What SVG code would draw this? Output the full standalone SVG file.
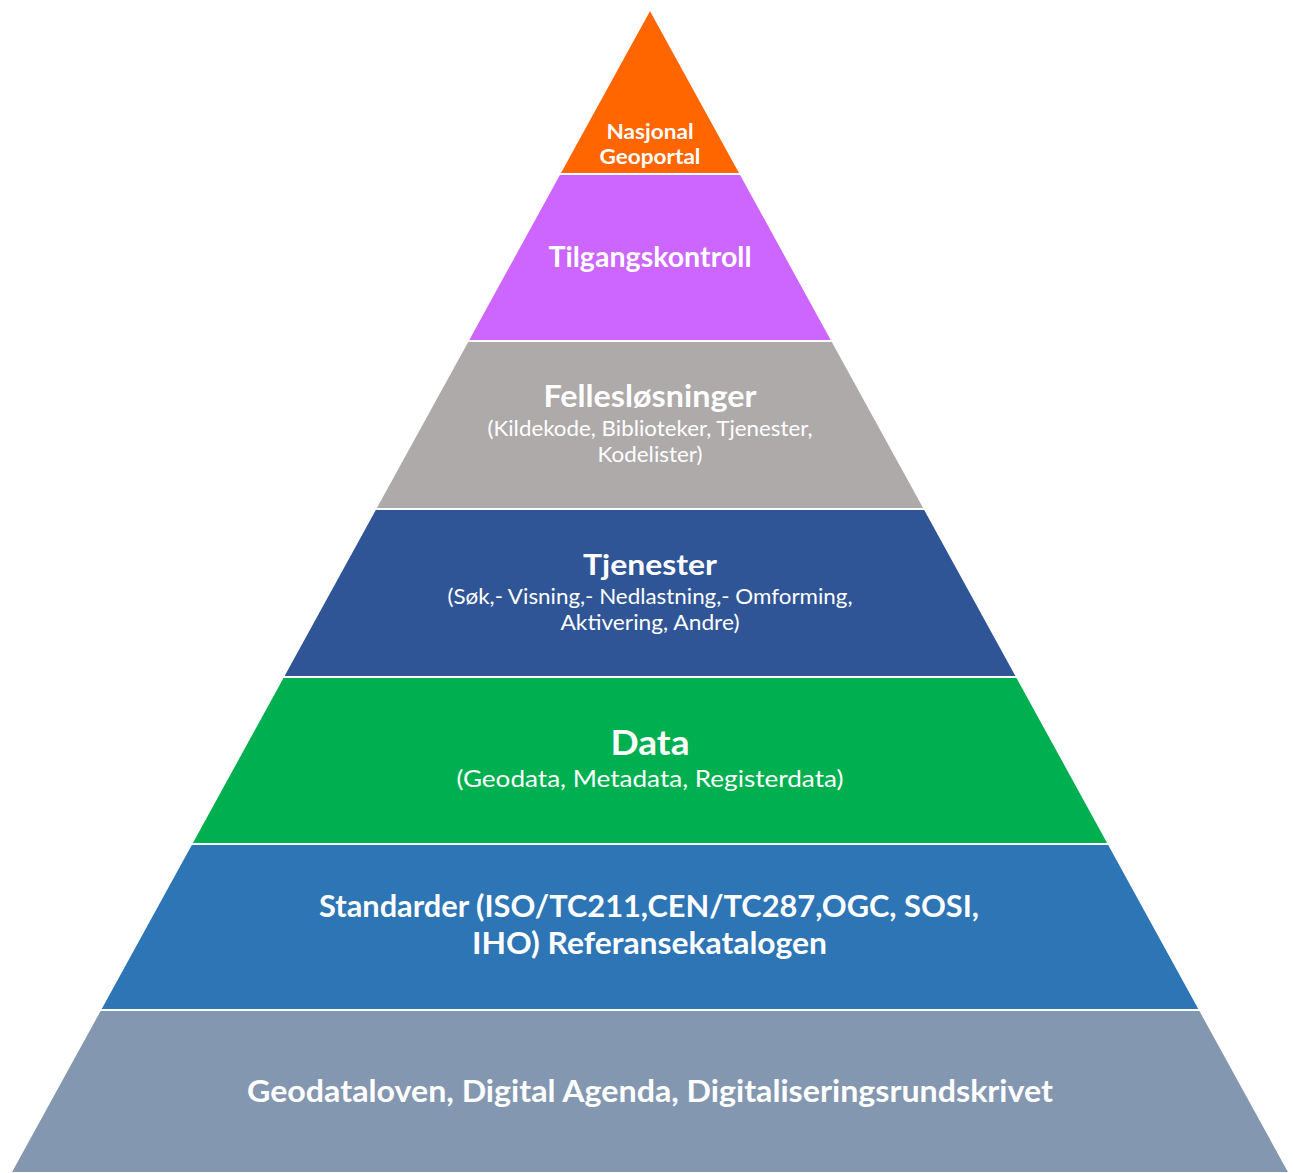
<svg xmlns="http://www.w3.org/2000/svg" width="1293" height="1173" viewBox="0 0 1293 1173">
<style>
.layer{stroke:#fff;stroke-width:2;stroke-linejoin:miter}
text{font-family:Lato,"Open Sans","Liberation Sans",sans-serif;fill:#fff;text-anchor:middle}
.b{font-weight:bold}
</style>
<rect width="1293" height="1173" fill="#fff"/>
<g id="layer-geoportal">
<polygon class="layer" fill="#FF6600" points="650,9 740.7,174 559.3,174"/>
<text class="b" x="650" y="139" font-size="20" textLength="87" lengthAdjust="spacingAndGlyphs">Nasjonal</text>
<text class="b" x="650" y="164" font-size="20" textLength="101" lengthAdjust="spacingAndGlyphs">Geoportal</text>
</g>
<g id="layer-tilgang">
<polygon class="layer" fill="#CC66FF" points="559.3,174 740.7,174 832.4,341 467.6,341"/>
<text class="b" x="650" y="267" font-size="28" textLength="203" lengthAdjust="spacingAndGlyphs">Tilgangskontroll</text>
</g>
<g id="layer-felles">
<polygon class="layer" fill="#AEAAAA" points="467.6,341 832.4,341 924.8,509 375.2,509"/>
<text class="b" x="650" y="407" font-size="30" textLength="213" lengthAdjust="spacingAndGlyphs">Fellesløsninger</text>
<text x="650" y="436" font-size="21" textLength="325" lengthAdjust="spacingAndGlyphs">(Kildekode, Biblioteker, Tjenester,</text>
<text x="650" y="462" font-size="21" textLength="105" lengthAdjust="spacingAndGlyphs">Kodelister)</text>
</g>
<g id="layer-tjenester">
<polygon class="layer" fill="#2F5597" points="375.2,509 924.8,509 1017.1,677 282.9,677"/>
<text class="b" x="650" y="575" font-size="29" textLength="134" lengthAdjust="spacingAndGlyphs">Tjenester</text>
<text x="650" y="604" font-size="21" textLength="405" lengthAdjust="spacingAndGlyphs">(Søk,- Visning,- Nedlastning,- Omforming,</text>
<text x="650" y="630" font-size="21" textLength="179" lengthAdjust="spacingAndGlyphs">Aktivering, Andre)</text>
</g>
<g id="layer-data">
<polygon class="layer" fill="#00B050" points="282.9,677 1017.1,677 1108.8,844 191.2,844"/>
<text class="b" x="650" y="755" font-size="35" textLength="79" lengthAdjust="spacingAndGlyphs">Data</text>
<text x="650" y="787" font-size="24" textLength="387" lengthAdjust="spacingAndGlyphs">(Geodata, Metadata, Registerdata)</text>
</g>
<g id="layer-standarder">
<polygon class="layer" fill="#2E75B6" points="191.2,844 1108.8,844 1200,1010 100,1010"/>
<text class="b" x="649" y="917" font-size="30" textLength="660" lengthAdjust="spacingAndGlyphs">Standarder (ISO/TC211,CEN/TC287,OGC, SOSI,</text>
<text class="b" x="649.5" y="954" font-size="30" textLength="355" lengthAdjust="spacingAndGlyphs">IHO) Referansekatalogen</text>
</g>
<g id="layer-lover">
<polygon class="layer" fill="#8497B0" points="100,1010 1200,1010 1289.6,1173 10.4,1173"/>
<text class="b" x="650" y="1102" font-size="30" textLength="806" lengthAdjust="spacingAndGlyphs">Geodataloven, Digital Agenda, Digitaliseringsrundskrivet</text>
</g>
<g id="connectors"/>
</svg>
